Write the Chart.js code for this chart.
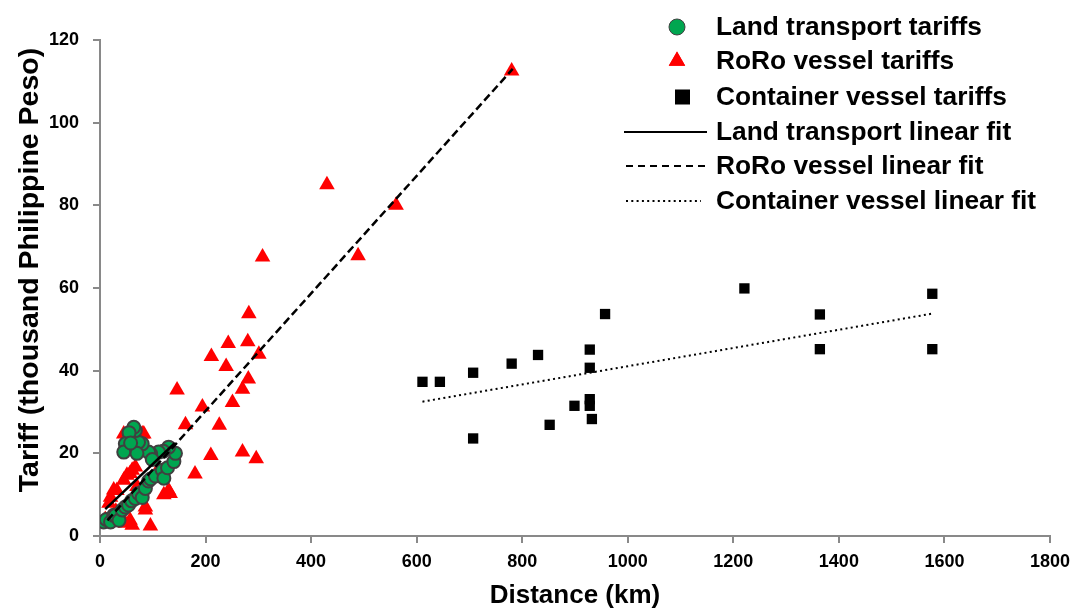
<!DOCTYPE html>
<html>
<head>
<meta charset="utf-8">
<script src="https://cdn.jsdelivr.net/npm/chart.js@4.4.1/dist/chart.umd.min.js"></script>
<style>
  html, body { margin: 0; padding: 0; background: #fff; }
  #wrap { width: 1078px; height: 610px; position: relative; }
</style>
</head>
<body>
<div id="wrap"><canvas id="tariffChart"></canvas></div>
<script>
// distance (km), tariff (thousand PHP)
const landDist   = [7, 12, 20, 26, 29, 36, 42, 48, 54, 60, 67, 73, 80, 86, 92, 96, 105, 118, 121, 128, 140, 143, 130, 120, 111, 96, 92, 99, 80, 73, 70, 67, 64, 55, 48, 45, 58];
const landTariff = [3.4, 4, 3.4, 5, 5, 3.8, 6.3, 7, 7.5, 8.5, 9.1, 10.3, 9.3, 11.5, 13.3, 13.8, 14.5, 15.9, 14, 16.5, 18, 20, 21.5, 20.5, 20.3, 19.9, 20.3, 18.5, 22.3, 22.7, 20, 25.5, 26.3, 25, 22.3, 20.3, 22.5];

const roroDist   = [780, 430, 561, 489, 308, 282, 243, 280, 211, 301, 239, 281, 270, 251, 194, 146, 162, 226, 210, 270, 296, 180, 130, 121, 86, 95.5, 80, 45, 83, 61, 51, 26, 17, 86, 48, 61, 67, 45, 32, 20, 57, 39, 133, 10, 30, 70, 110, 57];
const roroTariff = [112.5, 85, 80, 67.8, 67.5, 53.8, 46.6, 47, 43.4, 44, 41, 38, 35.5, 32.3, 31.2, 35.3, 26.9, 26.8, 19.5, 20.3, 18.7, 15, 11, 10, 7, 2.4, 24.7, 24.7, 24.7, 15.9, 14.7, 11.1, 7.9, 6.3, 3.1, 2.6, 16.7, 13.5, 11, 9.4, 3.8, 3.8, 10.3, 4, 6, 12, 16, 15.1];

const contDist   = [611, 644, 707, 780, 830, 928, 928, 928, 928, 899, 932, 852, 707, 957, 1221, 1364, 1364, 1577, 1577];
const contTariff = [37.3, 37.3, 39.5, 41.7, 43.8, 45.1, 40.7, 33.1, 31.5, 31.5, 28.3, 26.9, 23.6, 53.7, 59.9, 53.6, 45.2, 58.6, 45.2];

// fitted line end points
const landFitDist = [10, 142];
const landFitTariff = [6.5, 22.5];
const roroFitDist = [14, 782];
const roroFitTariff = [3.8, 113];
const contFitDist = [611, 1577];
const contFitTariff = [32.5, 53.8];

const xTicks = [0, 200, 400, 600, 800, 1000, 1200, 1400, 1600, 1800];
const yTicks = [0, 20, 40, 60, 80, 100, 120];

const yTitle = 'Tariff (thousand Philippine Peso)';
const legendLabels = [
  'Land transport tariffs',
  'RoRo vessel tariffs',
  'Container vessel tariffs',
  'Land transport linear fit',
  'RoRo vessel linear fit',
  'Container vessel linear fit'
];

const FONT = "'Liberation Sans', Arial, sans-serif";
const toPoints = (xs, ys) => xs.map((x, i) => ({ x: x, y: ys[i] }));

// y title sits a bit above the middle of the axis, drawn by hand
const yTitlePlugin = {
  id: 'yTitle',
  afterDraw(chart) {
    const ctx = chart.ctx;
    ctx.save();
    ctx.translate(30, 270);
    ctx.rotate(-Math.PI / 2);
    ctx.fillStyle = '#000';
    ctx.font = 'bold 28.5px ' + FONT;
    ctx.textAlign = 'center';
    ctx.textBaseline = 'middle';
    ctx.fillText(yTitle, 0, 0);
    ctx.restore();
  }
};

const legendPlugin = {
  id: 'sideLegend',
  afterDraw(chart) {
    const ctx = chart.ctx;
    const rows = [27, 61, 97, 132, 166, 201];
    ctx.save();
    // markers
    ctx.fillStyle = '#00a650'; ctx.strokeStyle = '#404040'; ctx.lineWidth = 1;
    ctx.beginPath(); ctx.arc(677, rows[0], 8, 0, Math.PI * 2); ctx.fill(); ctx.stroke();
    ctx.fillStyle = '#ff0000';
    ctx.beginPath();
    Chart.helpers.drawPoint(ctx, { pointStyle: 'triangle', radius: 9.5, borderWidth: 0 }, 677, rows[1]);
    ctx.fill();
    ctx.fillStyle = '#000';
    ctx.fillRect(675, rows[2] - 7.5, 15, 15);
    // lines
    ctx.strokeStyle = '#000';
    ctx.lineWidth = 2;
    const lineRow = (y, dash, x0, x1) => {
      ctx.setLineDash(dash);
      ctx.beginPath(); ctx.moveTo(x0, y); ctx.lineTo(x1, y); ctx.stroke();
    };
    lineRow(rows[3], [], 624, 707);
    lineRow(rows[4], [7, 5], 626, 709);
    lineRow(rows[5], [2, 3.3], 626, 701);
    ctx.setLineDash([]);
    // text
    ctx.fillStyle = '#000';
    ctx.font = 'bold 26.3px ' + FONT;
    ctx.textAlign = 'left';
    ctx.textBaseline = 'middle';
    legendLabels.forEach((t, i) => ctx.fillText(t, 716, rows[i] + 1));
    ctx.restore();
  }
};

const ctx = document.getElementById('tariffChart').getContext('2d');
new Chart(ctx, {
  type: 'scatter',
  data: {
    datasets: [
      {
        label: 'Land transport linear fit',
        data: toPoints(landFitDist, landFitTariff),
        showLine: true, borderColor: '#000', borderWidth: 2.5,
        pointRadius: 0, order: 0
      },
      {
        label: 'RoRo vessel linear fit',
        data: toPoints(roroFitDist, roroFitTariff),
        showLine: true, borderColor: '#000', borderWidth: 2.5, borderDash: [8, 4],
        pointRadius: 0, order: 0
      },
      {
        label: 'Container vessel linear fit',
        data: toPoints(contFitDist, contFitTariff),
        showLine: true, borderColor: '#000', borderWidth: 2, borderDash: [2, 3.3],
        pointRadius: 0, order: 0
      },
      {
        label: 'Land transport tariffs',
        data: toPoints(landDist, landTariff),
        pointStyle: 'circle', pointRadius: 6.5,
        backgroundColor: '#00a650', borderColor: '#404040', borderWidth: 2,
        order: 1
      },
      {
        label: 'RoRo vessel tariffs',
        data: toPoints(roroDist, roroTariff),
        pointStyle: 'triangle', pointRadius: 9,
        backgroundColor: '#ff0000', borderColor: '#ff0000', borderWidth: 0,
        order: 2
      },
      {
        label: 'Container vessel tariffs',
        data: toPoints(contDist, contTariff),
        pointStyle: 'rect', pointRadius: 7.3,
        backgroundColor: '#000', borderColor: '#000', borderWidth: 0,
        order: 3
      }
    ]
  },
  options: {
    responsive: true,
    maintainAspectRatio: false,
    animation: false,
    layout: { padding: { top: 40, right: 27, left: 0, bottom: 0 } },
    scales: {
      x: {
        type: 'linear', min: 0, max: 1800,
        afterBuildTicks: s => { s.ticks = xTicks.map(v => ({ value: v })); },
        afterFit: s => { s.height = 74; },
        grid: { drawOnChartArea: false, drawTicks: true, tickLength: 7, color: '#898989', lineWidth: 2 },
        border: { color: '#898989', width: 2 },
        ticks: {
          color: '#000', padding: 8, maxRotation: 0,
          font: { family: FONT, size: 18, weight: 'bold' },
          callback: v => String(v)
        },
        title: {
          display: true, text: 'Distance (km)', color: '#000',
          font: { family: FONT, size: 26, weight: 'bold', lineHeight: 1 },
          padding: { top: 0, bottom: 1 }
        }
      },
      y: {
        type: 'linear', min: 0, max: 120,
        afterBuildTicks: s => { s.ticks = yTicks.map(v => ({ value: v })); },
        afterFit: s => { s.width = 100; },
        grid: { drawOnChartArea: false, drawTicks: true, tickLength: 7, color: '#898989', lineWidth: 2 },
        border: { color: '#898989', width: 2 },
        ticks: {
          color: '#000', padding: 14,
          font: { family: FONT, size: 18, weight: 'bold' },
          callback: v => String(v)
        },
        title: { display: false }
      }
    },
    plugins: {
      legend: { display: false },
      tooltip: { enabled: false }
    }
  },
  plugins: [yTitlePlugin, legendPlugin]
});
</script>
</body>
</html>
